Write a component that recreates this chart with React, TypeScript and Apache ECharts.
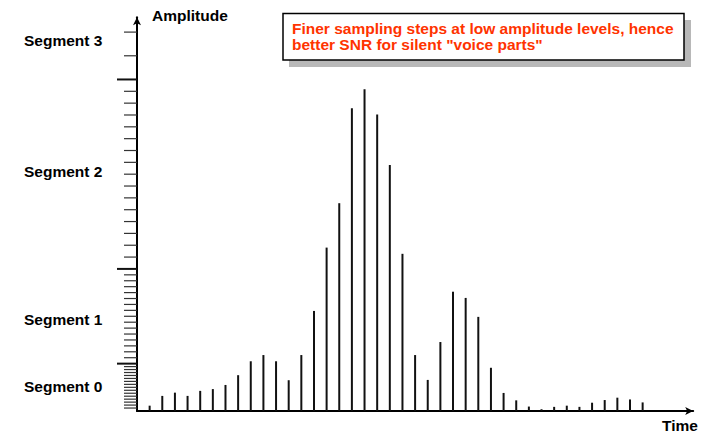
import React, { useEffect, useRef } from "react";
import * as echarts from "echarts";

// Sample amplitudes (linear amplitude units) for each time step 1..40
const sampleTimes = [
  1, 2, 3, 4, 5, 6, 7, 8, 9, 10, 11, 12, 13, 14, 15, 16, 17, 18, 19, 20,
  21, 22, 23, 24, 25, 26, 27, 28, 29, 30, 31, 32, 33, 34, 35, 36, 37, 38, 39, 40,
];
const sampleValues = [
  1.8, 5.1, 6.2, 5.1, 6.8, 7.4, 8.8, 12.1, 16.8, 18.9,
  16.8, 10.4, 18.9, 33.8, 55.2, 70.2, 102.3, 108.7, 100.2, 83.1,
  53.1, 18.9, 10.5, 23.3, 40.3, 38.2, 31.8, 14.6, 6.1, 3.6,
  1.5, 0.6, 1.4, 1.8, 1.4, 2.8, 3.7, 4.5, 3.9, 2.9,
];

// Quantisation step levels on the amplitude axis
const tickValues = [
  1, 2, 3, 4, 5, 6, 7, 8, 9, 10, 11, 12, 13, 14, 15, 16,
  18, 20, 22, 24, 26, 28, 30, 32, 34, 36, 38, 40, 42, 44, 46, 48,
  52, 56, 60, 64, 68, 72, 76, 80, 84, 88, 92, 96, 100, 104, 108, 112,
  120, 128,
];
const segmentBoundaries = [16, 48, 112];

const segmentNames = ["Segment 0", "Segment 1", "Segment 2", "Segment 3"];
const segmentLabelLevels = [8.3, 31, 81, 125];

const noteLines = [
  "Finer sampling steps at low amplitude levels, hence",
  'better SNR for silent "voice parts"',
];

const FONT = '"Liberation Sans", Arial, sans-serif';
const LABEL_FONT = `bold 15.5px ${FONT}`;

export default function App() {
  const ref = useRef<HTMLDivElement>(null);
  useEffect(() => {
    if (!ref.current) return;
    const chart = echarts.init(ref.current, null, { renderer: "svg" });
    const option: any = {
      animation: false,
      backgroundColor: "#ffffff",
      grid: { left: 137, right: 7.8, top: 17.3, bottom: 24, containLabel: false },
      xAxis: {
        type: "value",
        min: 0,
        max: 44,
        axisLine: {
          show: true,
          symbol: ["none", "arrow"],
          symbolSize: [6, 8],
          lineStyle: { color: "#000", width: 2 },
        },
        axisTick: { show: false },
        axisLabel: { show: false },
        splitLine: { show: false },
      },
      yAxis: {
        type: "value",
        min: 0,
        max: 133,
        axisLine: {
          show: true,
          symbol: ["none", "arrow"],
          symbolSize: [6, 8],
          lineStyle: { color: "#000", width: 2 },
        },
        axisTick: { show: false },
        axisLabel: { show: false },
        splitLine: { show: false },
      },
      series: [
        {
          type: "bar",
          data: sampleTimes.map((t, i) => [t, sampleValues[i]]),
          barWidth: 2,
          itemStyle: { color: "#111" },
          silent: true,
        },
        {
          type: "custom",
          silent: true,
          data: tickValues.map((v) => [0, v, segmentBoundaries.includes(v) ? 1 : 0]),
          renderItem: (params: any, api: any) => {
            const v = api.value(1);
            const long = api.value(2) === 1;
            const p = api.coord([0, v]);
            return {
              type: "line",
              shape: { x1: p[0] - (long ? 20 : 13), y1: p[1], x2: p[0], y2: p[1] },
              style: { stroke: long ? "#111" : "#333", lineWidth: long ? 2 : 1.2 },
            };
          },
        },
        {
          type: "custom",
          silent: true,
          data: segmentLabelLevels.map((v, i) => [0, v, i]),
          renderItem: (params: any, api: any) => {
            const v = api.value(1);
            const idx = api.value(2);
            const p = api.coord([0, v]);
            return {
              type: "text",
              x: p[0] - 113,
              y: p[1],
              style: {
                text: segmentNames[idx],
                font: LABEL_FONT,
                fill: "#000",
                align: "left",
                verticalAlign: "middle",
                textAlign: "left",
                textVerticalAlign: "middle",
              },
            };
          },
        },
      ],
      graphic: [
        {
          type: "text",
          left: 152,
          top: 7,
          style: { text: "Amplitude", font: LABEL_FONT, fill: "#000" },
        },
        {
          type: "text",
          left: 662,
          top: 417,
          style: { text: "Time", font: LABEL_FONT, fill: "#000" },
        },
        {
          type: "rect",
          shape: { x: 289, y: 20, width: 402, height: 47 },
          style: { fill: "#b8b8b8" },
          silent: true,
        },
        {
          type: "rect",
          shape: { x: 283, y: 13.5, width: 401, height: 46.5 },
          style: { fill: "#ffffff", stroke: "#000", lineWidth: 1.5 },
          silent: true,
        },
        {
          type: "text",
          left: 292,
          top: 20,
          style: {
            text: noteLines.join("\n"),
            font: LABEL_FONT,
            fill: "#ff3300",
            lineHeight: 16,
          },
        },
      ],
    };
    chart.setOption(option);
    return () => chart.dispose();
  }, []);
  return (
    <div
      ref={ref}
      style={{ position: "absolute", left: 0, top: 0, width: 701, height: 435 }}
    />
  );
}
